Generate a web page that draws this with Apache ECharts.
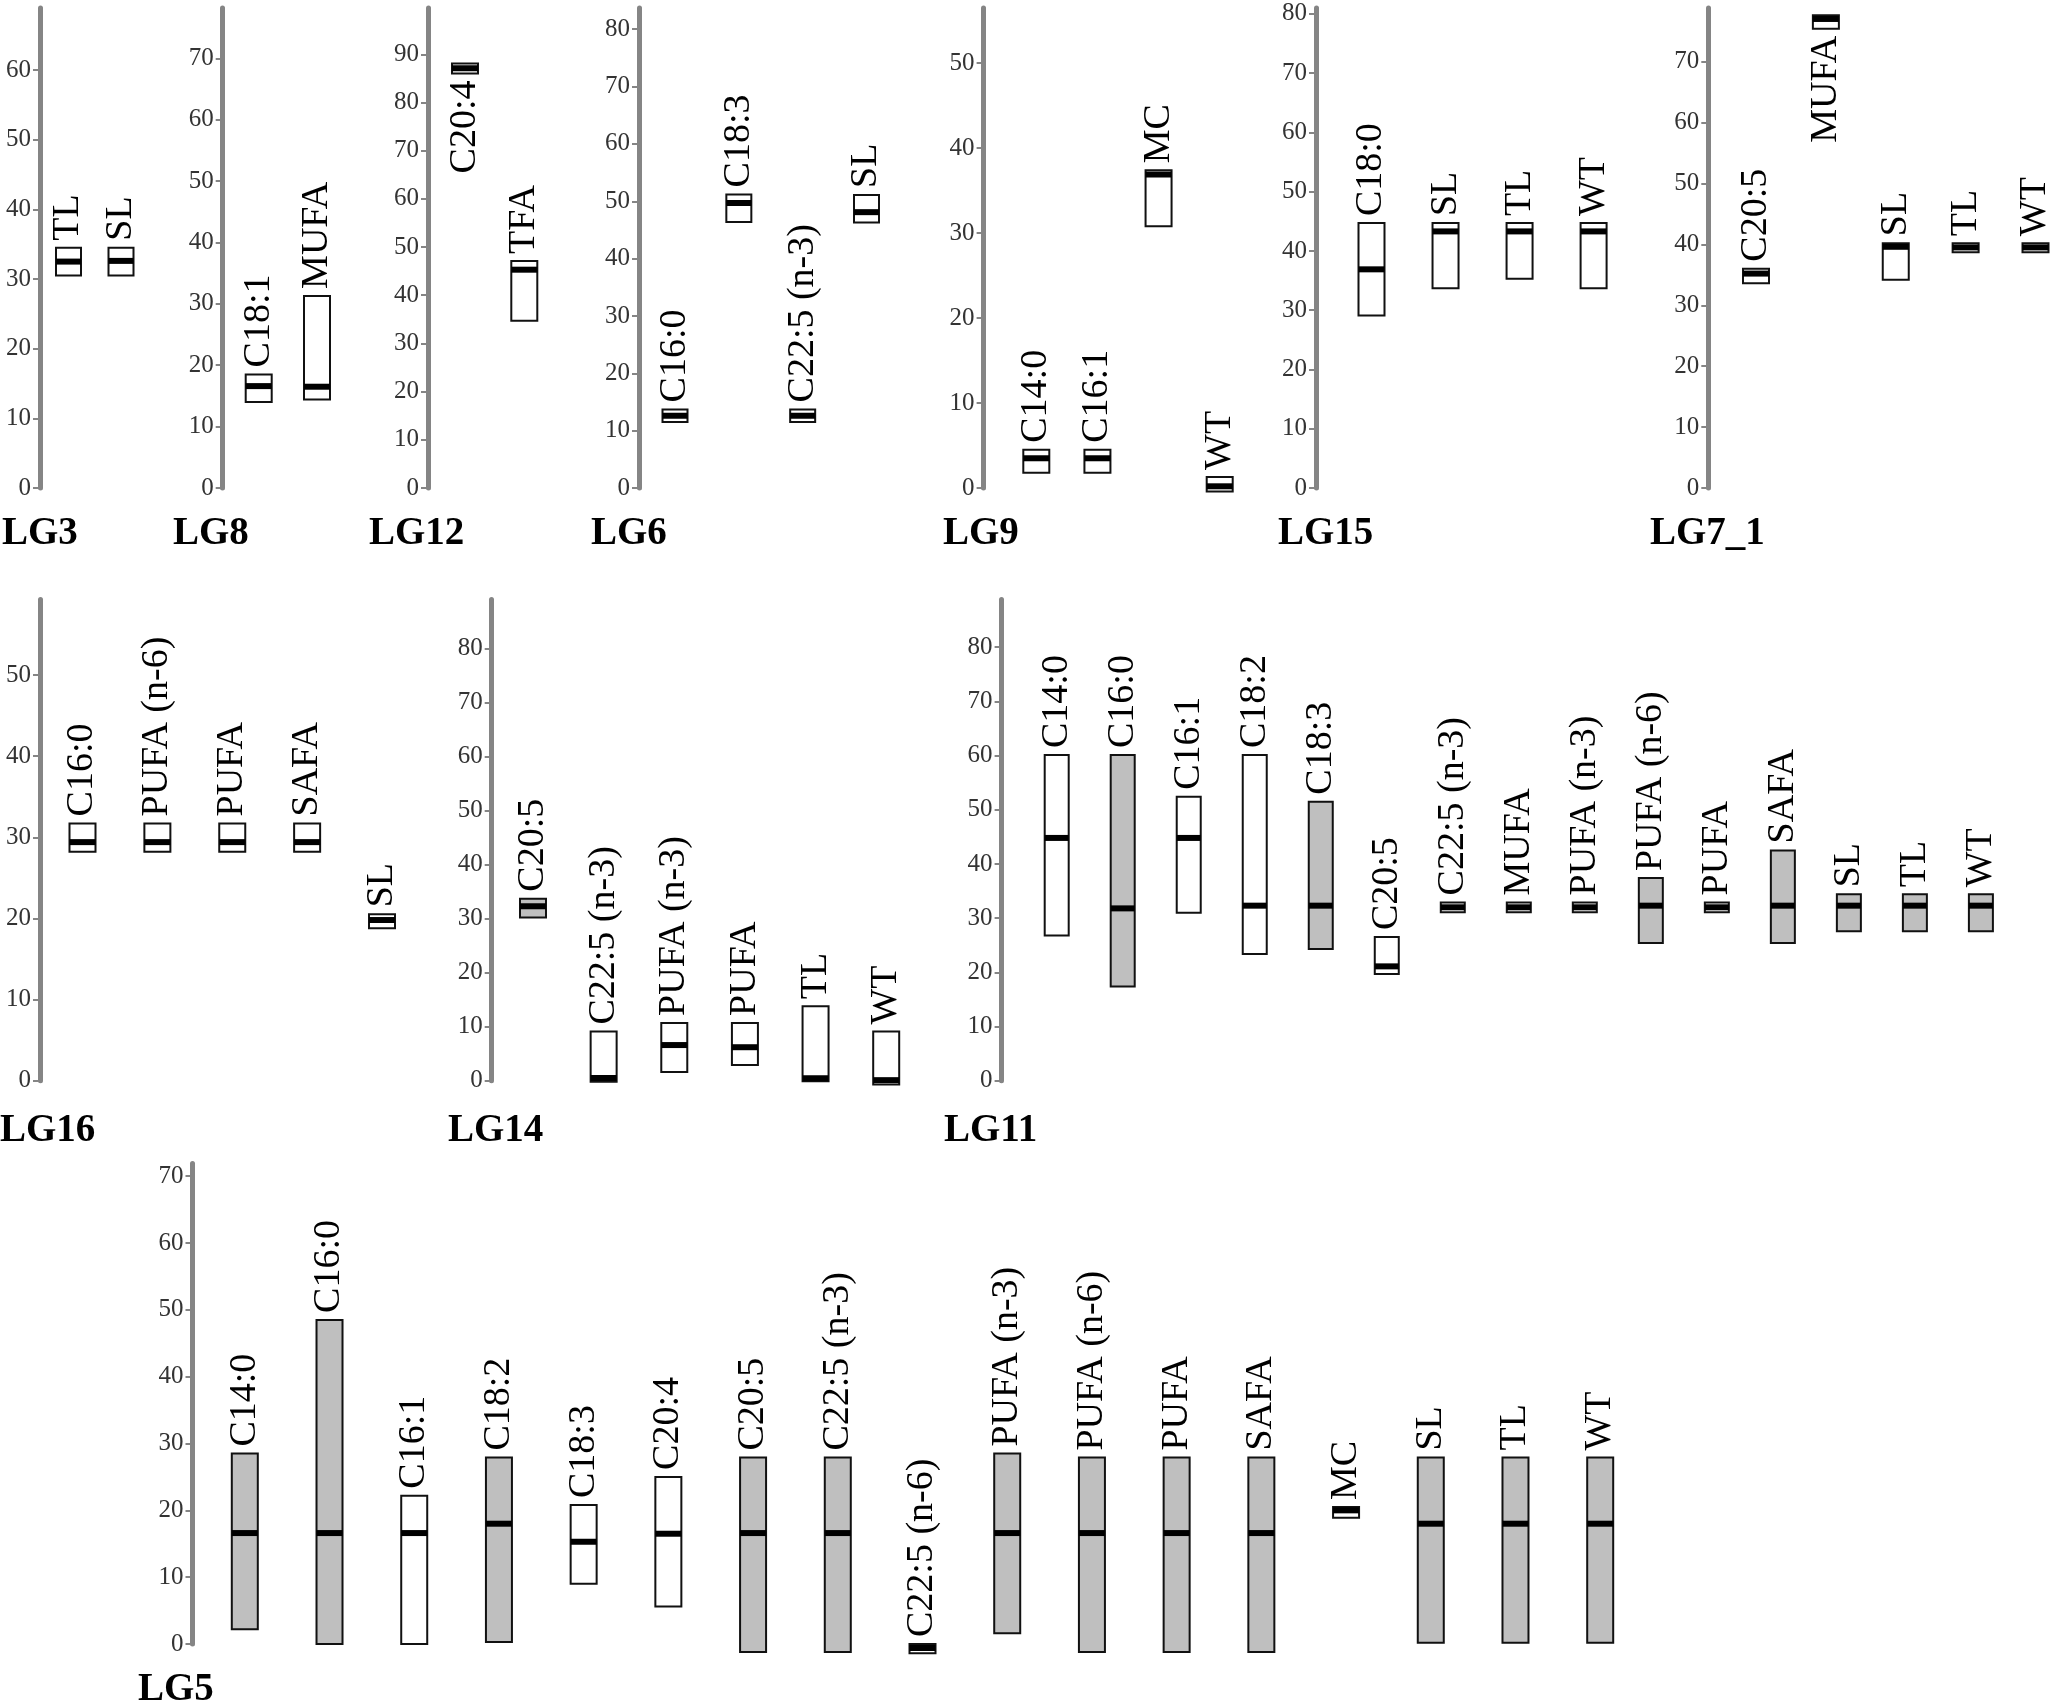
<!DOCTYPE html>
<html><head><meta charset="utf-8">
<script src="https://cdn.jsdelivr.net/npm/echarts@6/dist/echarts.min.js"></script>
<style>html,body{margin:0;padding:0;background:#fff}#c{width:2052px;height:1707px}</style>
</head><body><div id="c"></div>
<script>
// ---- DATA: each row = [trait, interval low (cM), interval high (cM), peak (cM), grey fill (1) / white (0)]
const LG3 = [
  ['TL', 30.5, 34.5, 32.5, 0],
  ['SL', 30.5, 34.5, 32.6, 0]
];
const LG8 = [
  ['C18:1', 14.0, 18.5, 16.6, 0],
  ['MUFA', 14.4, 31.3, 16.5, 0]
];
const LG12 = [
  ['C20:4', 86.0, 88.1, 87.1, 0],
  ['TFA', 34.7, 47.1, 45.3, 0]
];
const LG6 = [
  ['C16:0', 11.5, 13.7, 12.6, 0],
  ['C18:3', 46.4, 51.2, 49.7, 0],
  ['C22:5 (n-3)', 11.5, 13.7, 12.6, 0],
  ['SL', 46.3, 51.1, 48.1, 0]
];
const LG9 = [
  ['C14:0', 1.8, 4.5, 3.5, 0],
  ['C16:1', 1.8, 4.5, 3.5, 0],
  ['MC', 30.8, 37.4, 36.9, 0],
  ['WT', -0.4, 1.3, 0.2, 0]
];
const LG15 = [
  ['C18:0', 29.1, 44.7, 36.9, 0],
  ['SL', 33.7, 44.7, 43.3, 0],
  ['TL', 35.3, 44.7, 43.3, 0],
  ['WT', 33.7, 44.7, 43.3, 0]
];
const LG7_1 = [
  ['C20:5', 33.6, 36.0, 35.2, 0],
  ['MUFA', 75.4, 77.6, 77.0, 0],
  ['SL', 34.2, 40.2, 39.6, 0],
  ['TL', 38.7, 40.2, 39.5, 0],
  ['WT', 38.7, 40.2, 39.5, 0]
];
const LG16 = [
  ['C16:0', 28.2, 31.7, 29.4, 0],
  ['PUFA (n-6)', 28.2, 31.7, 29.4, 0],
  ['PUFA', 28.2, 31.7, 29.4, 0],
  ['SAFA', 28.2, 31.7, 29.4, 0],
  ['SL', 18.8, 20.5, 19.8, 0]
];
const LG14 = [
  ['C20:5', 30.2, 33.7, 32.3, 1],
  ['C22:5 (n-3)', -0.2, 9.1, 0.5, 0],
  ['PUFA (n-3)', 1.6, 10.7, 6.6, 0],
  ['PUFA', 2.9, 10.7, 6.2, 0],
  ['TL', -0.1, 13.8, 0.4, 0],
  ['WT', -0.7, 9.1, 0.1, 0]
];
const LG11 = [
  ['C14:0', 26.8, 60.1, 44.8, 0],
  ['C16:0', 17.4, 60.1, 31.8, 1],
  ['C16:1', 31.0, 52.4, 44.8, 0],
  ['C18:2', 23.4, 60.1, 32.3, 0],
  ['C18:3', 24.3, 51.5, 32.3, 1],
  ['C20:5', 19.7, 26.5, 21.1, 0],
  ['C22:5 (n-3)', 31.1, 32.9, 32.0, 0],
  ['MUFA', 31.1, 32.9, 32.0, 0],
  ['PUFA (n-3)', 31.1, 32.9, 32.0, 0],
  ['PUFA (n-6)', 25.4, 37.4, 32.3, 1],
  ['PUFA', 31.1, 32.9, 32.0, 0],
  ['SAFA', 25.4, 42.5, 32.3, 1],
  ['SL', 27.6, 34.4, 32.3, 1],
  ['TL', 27.6, 34.4, 32.3, 1],
  ['WT', 27.6, 34.4, 32.3, 1]
];
const LG5 = [
  ['C14:0', 2.2, 28.5, 16.6, 1],
  ['C16:0', 0.0, 48.5, 16.6, 1],
  ['C16:1', 0.0, 22.2, 16.6, 0],
  ['C18:2', 0.3, 27.9, 18.0, 1],
  ['C18:3', 9.0, 20.8, 15.3, 0],
  ['C20:4', 5.6, 25.0, 16.5, 0],
  ['C20:5', -1.2, 27.9, 16.6, 1],
  ['C22:5 (n-3)', -1.2, 27.9, 16.6, 1],
  ['C22:5 (n-6)', -1.4, 0.0, -0.6, 0],
  ['PUFA (n-3)', 1.6, 28.5, 16.6, 1],
  ['PUFA (n-6)', -1.2, 27.9, 16.6, 1],
  ['PUFA', -1.2, 27.9, 16.6, 1],
  ['SAFA', -1.2, 27.9, 16.6, 1],
  ['MC', 18.9, 20.5, 20.0, 0],
  ['SL', 0.2, 27.9, 18.0, 1],
  ['TL', 0.2, 27.9, 18.0, 1],
  ['WT', 0.2, 27.9, 18.0, 1]
];
const lgNames   = ['LG3', 'LG8', 'LG12', 'LG6', 'LG9', 'LG15', 'LG7_1', 'LG16', 'LG14', 'LG11', 'LG5'];
const lgLengths = [68.9, 78.2, 99.6, 83.7, 56.5, 81.0, 78.8, 59.3, 89.1, 88.8, 71.9];
const lgQTL     = [LG3, LG8, LG12, LG6, LG9, LG15, LG7_1, LG16, LG14, LG11, LG5];
const tickStep  = 10;

// ---- LAYOUT (pixels)
const ROWS = [
  {top: 8,      zero: 488,    titleBase: 547},
  {top: 599.5,  zero: 1080.7, titleBase: 1144},
  {top: 1163.5, zero: 1644,   titleBase: 1703}
];
const LAYOUT = [
  {row: 0, axisX: 40,     c0: 68.5,   cN: 121,    titleX: 2,    boxW: 25},
  {row: 0, axisX: 222.7,  c0: 258.7,  cN: 317,    titleX: 173,  boxW: 26},
  {row: 0, axisX: 428,    c0: 465,    cN: 524.3,  titleX: 369,  boxW: 26},
  {row: 0, axisX: 639,    c0: 675,    cN: 866.5,  titleX: 591,  boxW: 25},
  {row: 0, axisX: 983.6,  c0: 1036.3, cN: 1219.7, titleX: 943,  boxW: 26},
  {row: 0, axisX: 1316,   c0: 1371.5, cN: 1593.6, titleX: 1278, boxW: 26},
  {row: 0, axisX: 1708.3, c0: 1756,   cN: 2035.5, titleX: 1650, boxW: 26},
  {row: 1, axisX: 40,     c0: 82.5,   cN: 382,    titleX: 0,    boxW: 26},
  {row: 1, axisX: 491.7,  c0: 533,    cN: 886.2,  titleX: 448,  boxW: 26},
  {row: 1, axisX: 1001.6, c0: 1056.7, cN: 1980.9, titleX: 944,  boxW: 24},
  {row: 2, axisX: 192.5,  c0: 244.8,  cN: 1600.2, titleX: 138,  boxW: 26}
];
const FONT = "'Liberation Serif','Times New Roman',serif";
const LABEL_FONT = '38px ' + FONT;
const mctx = document.createElement('canvas').getContext('2d');
mctx.font = LABEL_FONT;

function makeRender(traits, len, boxW) {
  return function (params, api) {
    const k = api.value(0), lo = api.value(1), hi = api.value(2), pk = api.value(3), shade = api.value(4);
    const pTop = api.coord([k, hi]), pBot = api.coord([k, lo]), pPk = api.coord([k, pk]), axTop = api.coord([k, len]);
    const cx = pTop[0], x = cx - boxW / 2, h = pBot[1] - pTop[1];
    const barH = Math.min(6, h);
    let by = pPk[1] - barH / 2;
    by = Math.max(pTop[1], Math.min(by, pBot[1] - barH));
    const label = traits[k];
    const tw = mctx.measureText(label).width;
    const gap = 7;
    const above = (pTop[1] - gap - tw) >= axTop[1] - 4;
    return {
      type: 'group',
      children: [
        {type: 'rect', shape: {x: x, y: pTop[1], width: boxW, height: h},
         style: {fill: shade ? '#bfbfbf' : '#ffffff', stroke: '#111', lineWidth: 2}},
        {type: 'rect', shape: {x: x, y: by, width: boxW, height: barH}, style: {fill: '#000'}},
        {type: 'text', x: cx, y: above ? pTop[1] - gap : pBot[1] + gap, rotation: Math.PI / 2,
         style: {text: label, x: 0, y: 0, font: LABEL_FONT, fill: '#000',
                 align: above ? 'left' : 'right', verticalAlign: 'middle'}}
      ]
    };
  };
}

const grids = [], xAxes = [], yAxes = [], series = [], graphics = [];
lgNames.forEach(function (name, i) {
  const L = LAYOUT[i], R = ROWS[L.row], rows = lgQTL[i], n = rows.length;
  const s = n > 1 ? (L.cN - L.c0) / (n - 1) : 50;
  const left = L.c0 - s / 2;
  const len = lgLengths[i];
  const ticks = [];
  for (let v = 0; v <= len + 1e-9; v += tickStep) ticks.push(v);
  grids.push({left: left, top: R.top, width: s * n, height: R.zero - R.top, containLabel: false, outerBoundsMode: 'none'});
  xAxes.push({type: 'category', gridIndex: i, data: rows.map(function (r) { return r[0]; }), show: false, boundaryGap: true});
  yAxes.push({
    type: 'value', gridIndex: i, min: 0, max: len, interval: tickStep, offset: left - L.axisX,
    axisLine: {show: true, onZero: false, lineStyle: {color: '#858585', width: 5}},
    axisTick: {show: true, length: 7, customValues: ticks, lineStyle: {color: '#858585', width: 2}},
    axisLabel: {show: true, customValues: ticks, margin: 9, fontSize: 25, fontFamily: FONT, color: '#333'},
    splitLine: {show: false}
  });
  series.push({
    type: 'custom', xAxisIndex: i, yAxisIndex: i, silent: true, clip: false,
    data: rows.map(function (r, k) { return [k, r[1], r[2], r[3], r[4]]; }),
    renderItem: makeRender(rows.map(function (r) { return r[0]; }), len, L.boxW)
  });
  graphics.push({
    type: 'text', x: L.titleX, y: R.titleBase - 13,
    style: {text: name, x: 0, y: 0, font: 'bold 39px ' + FONT, fill: '#000', align: 'left', verticalAlign: 'middle'}
  });
});

const chart = echarts.init(document.getElementById('c'), null, {renderer: 'canvas'});
chart.setOption({
  backgroundColor: '#ffffff',
  animation: false,
  grid: grids, xAxis: xAxes, yAxis: yAxes, series: series,
  graphic: {elements: graphics}
});
</script>
</body></html>
